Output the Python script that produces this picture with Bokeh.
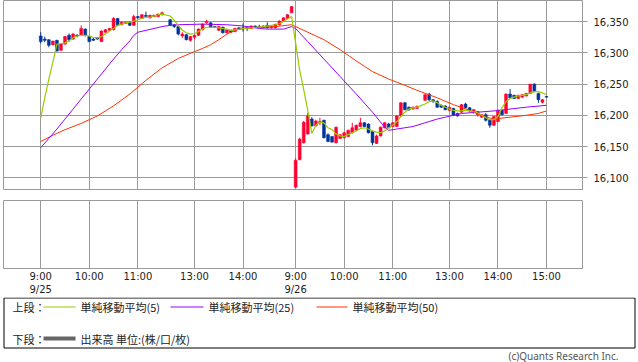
from bokeh.plotting import figure
from bokeh.layouts import column
from bokeh.models import Range1d, FixedTicker, NumeralTickFormatter
from bokeh.core.properties import value
from bokeh.embed import file_html
from bokeh.resources import INLINE

# ---------------- data ----------------
# x slots of 5-minute bars (one empty slot for each lunch break)
am1 = list(range(0, 31))
pm1 = list(range(32, 63))
am2 = list(range(63, 94))
pm2 = list(range(95, 126))
slots = am1 + pm1 + am2 + pm2

opens = [16327, 16322, 16321, 16313, 16320, 16304, 16314, 16328, 16322, 16328,
         16328, 16338, 16326, 16322, 16324, 16318, 16333, 16336, 16337, 16355,
         16345, 16347, 16349, 16344, 16358, 16355, 16360, 16356, 16358, 16358, 16361,
         16353, 16345, 16342, 16327, 16329, 16320, 16325, 16328, 16337, 16348,
         16348, 16342, 16336, 16341, 16332, 16336, 16334, 16340, 16340, 16341,
         16339, 16343, 16342, 16340, 16344, 16340, 16340, 16345, 16351, 16355, 16364,
         16085, 16129, 16156, 16170, 16194, 16183, 16188, 16192, 16169, 16166,
         16156, 16163, 16164, 16166, 16172, 16176, 16182, 16188, 16186, 16174,
         16155, 16167, 16180, 16186, 16182, 16182, 16199, 16220, 16213, 16210, 16211,
         16224, 16234, 16225, 16222, 16216, 16215, 16208, 16211, 16203, 16205,
         16218, 16212, 16204, 16201, 16197, 16201, 16193, 16184, 16190, 16208,
         16203, 16234, 16232, 16227, 16229, 16231, 16235, 16250, 16235, 16221, 16230]
highs = [16333, 16326, 16322, 16319, 16321, 16315, 16327, 16331, 16332, 16330,
         16344, 16339, 16327, 16324, 16325, 16336, 16338, 16340, 16357, 16356,
         16350, 16350, 16350, 16361, 16359, 16362, 16366, 16361, 16361, 16363, 16366,
         16354, 16346, 16343, 16333, 16330, 16327, 16329, 16339, 16347, 16353,
         16349, 16343, 16343, 16342, 16337, 16337, 16340, 16341, 16347, 16342,
         16344, 16344, 16345, 16344, 16349, 16343, 16346, 16352, 16357, 16362, 16375,
         16131, 16164, 16191, 16204, 16197, 16193, 16196, 16193, 16171, 16166,
         16182, 16170, 16173, 16177, 16188, 16185, 16196, 16189, 16187, 16175,
         16169, 16182, 16189, 16188, 16189, 16200, 16221, 16221, 16214, 16214, 16216,
         16234, 16236, 16226, 16224, 16217, 16216, 16214, 16212, 16204, 16218,
         16220, 16213, 16210, 16207, 16202, 16204, 16194, 16199, 16209, 16209,
         16235, 16242, 16233, 16233, 16234, 16236, 16250, 16251, 16236, 16226, 16231]
lows = [16315, 16317, 16309, 16312, 16302, 16303, 16313, 16318, 16321, 16325,
        16327, 16326, 16317, 16319, 16321, 16317, 16332, 16335, 16336, 16343,
        16344, 16346, 16343, 16343, 16355, 16354, 16357, 16355, 16357, 16357, 16360,
        16343, 16340, 16328, 16324, 16320, 16318, 16322, 16327, 16336, 16347,
        16340, 16340, 16335, 16331, 16331, 16332, 16333, 16337, 16334, 16335,
        16338, 16340, 16340, 16339, 16339, 16339, 16339, 16344, 16350, 16354, 16364,
        16084, 16128, 16155, 16169, 16182, 16182, 16184, 16163, 16157, 16157,
        16155, 16162, 16163, 16165, 16171, 16175, 16181, 16181, 16171, 16152,
        16154, 16166, 16179, 16179, 16181, 16181, 16198, 16208, 16207, 16209, 16210,
        16223, 16223, 16220, 16212, 16212, 16208, 16207, 16199, 16198, 16204,
        16211, 16206, 16203, 16198, 16196, 16190, 16180, 16183, 16189, 16200,
        16202, 16227, 16226, 16226, 16228, 16230, 16234, 16237, 16220, 16219, 16229]
closes = [16318, 16320, 16312, 16319, 16303, 16314, 16326, 16321, 16330, 16327,
          16339, 16328, 16318, 16320, 16322, 16335, 16337, 16339, 16355, 16344,
          16349, 16349, 16344, 16358, 16356, 16361, 16358, 16360, 16360, 16362, 16364,
          16344, 16342, 16330, 16330, 16321, 16326, 16328, 16338, 16346, 16350,
          16341, 16341, 16342, 16332, 16337, 16333, 16339, 16338, 16338, 16340,
          16343, 16341, 16341, 16343, 16340, 16342, 16346, 16351, 16356, 16361, 16374,
          16128, 16162, 16189, 16199, 16183, 16191, 16190, 16164, 16158, 16157,
          16181, 16169, 16172, 16176, 16180, 16184, 16188, 16182, 16172, 16156,
          16167, 16181, 16188, 16180, 16188, 16199, 16220, 16209, 16209, 16213, 16214,
          16233, 16225, 16222, 16213, 16213, 16209, 16213, 16200, 16199, 16217,
          16212, 16207, 16209, 16206, 16201, 16192, 16184, 16198, 16208, 16201,
          16234, 16228, 16227, 16232, 16233, 16235, 16250, 16238, 16225, 16225, 16229]

# moving averages (slot, value)
ma5_x = [0, 1, 2, 3, 4, 5, 6, 7, 8, 9, 10, 11, 12, 13, 14, 15, 16, 17, 18, 19, 20,
         21, 22, 23, 24, 25, 26, 27, 28, 29, 30, 32, 33, 34, 35, 36, 37, 38, 39, 40,
         41, 42, 43, 44, 45, 46, 47, 48, 50, 52, 53, 55, 57, 58, 59, 60, 61, 62,
         63, 64, 65, 66, 67, 68, 69, 70, 71, 72, 73, 74, 75, 76, 77, 78, 79, 80,
         81, 82, 83, 84, 85, 86, 87, 88, 89, 90, 91, 92, 93, 95, 96, 97, 98, 99,
         100, 101, 102, 103, 104, 105, 106, 107, 108, 109, 110, 111, 112, 113, 114,
         115, 116, 117, 118, 119, 120, 121, 122, 123, 124, 125]
ma5 = [16196, 16228, 16258, 16285, 16314, 16315, 16316, 16319, 16324, 16327, 16328,
       16328, 16327, 16325, 16324, 16326, 16330, 16335, 16339, 16344, 16346,
       16348, 16349, 16351, 16353, 16355, 16357, 16357, 16359, 16361, 16362,
       16359, 16352, 16344, 16336, 16332, 16330, 16331, 16334, 16338,
       16341, 16341, 16341, 16340, 16339, 16338, 16336, 16337, 16339, 16340,
       16341, 16342, 16344, 16345, 16347, 16350, 16354, 16358,
       16316, 16272, 16241, 16208, 16171, 16184, 16189, 16188, 16180, 16177,
       16170, 16167, 16166, 16169, 16172, 16175, 16179, 16180, 16178, 16175,
       16173, 16172, 16175, 16180, 16184, 16190, 16198, 16205, 16210, 16212,
       16213, 16218, 16222, 16223, 16220, 16216, 16213, 16210, 16208, 16207,
       16207, 16208, 16207, 16206, 16204, 16200, 16196, 16193, 16193, 16198,
       16212, 16222, 16227, 16229, 16231, 16232, 16233, 16236, 16238, 16238,
       16236, 16233]
ma25_x = [0, 2, 4, 6, 8, 10, 12, 14, 16, 18, 20, 22, 23, 24, 26, 28, 30, 32, 34,
          40, 46, 50, 54, 56, 60, 62, 63, 64, 66, 70, 74, 78, 82, 85, 86, 88, 90,
          92, 95, 96, 98, 100, 102, 104, 108, 112, 116, 120, 125]
ma25 = [16148, 16163, 16178, 16194, 16210, 16226, 16242, 16258, 16274, 16290,
        16305, 16319, 16328, 16333, 16336, 16339, 16342, 16344, 16345, 16346,
        16345, 16343, 16339, 16338, 16338, 16342, 16339, 16332, 16318, 16290,
        16262, 16234, 16205, 16181, 16176, 16178, 16180, 16182, 16188, 16190,
        16194, 16197, 16200, 16203, 16205, 16207, 16210, 16213, 16216]
ma50_x = [0, 3, 6, 10, 14, 18, 22, 26, 30, 34, 38, 40, 42, 44, 46, 48, 50, 54,
          58, 62, 63, 66, 70, 74, 78, 82, 86, 90, 93, 98, 102, 106, 109, 112,
          116, 120, 123, 125]
ma50 = [16158, 16168, 16177, 16187, 16199, 16215, 16234, 16256, 16276, 16291,
        16302, 16307, 16313, 16321, 16330, 16336, 16339, 16341, 16342, 16345,
        16342, 16333, 16321, 16305, 16287, 16270, 16258, 16248, 16240, 16228,
        16217, 16208, 16199, 16194, 16197, 16200, 16203, 16207]

tick_pos = [0, 12, 24, 38, 50, 63, 75, 87, 101, 113, 125]
tick_labels = ["9:00\n9/25", "10:00", "11:00", "13:00", "14:00", "9:00\n9/26",
               "10:00", "11:00", "13:00", "14:00", "15:00"]
price_ticks = [16100, 16150, 16200, 16250, 16300, 16350]

legend_top = ["単純移動平均(5)", "単純移動平均(25)", "単純移動平均(50)"]
legend_colors = ["#99cc00", "#9900ff", "#ff3300"]
legend_bottom = "出来高 単位:(株/口/枚)"

# ---------------- styling ----------------
GRID = "#9a9a9a"
UP, DOWN = "#ff0033", "#003399"
FONT = "DejaVu Sans"
JFONT = "Noto Sans CJK JP"
W = 638
XR = Range1d(-9.2, 133.9)

# ---------------- upper panel ----------------
p1 = figure(width=W, height=190, x_range=XR,
            y_range=Range1d(16079.6, 16383.8), output_backend="svg",
            toolbar_location=None, y_axis_location="right", x_axis_location=None,
            min_border_left=3, min_border_top=0, min_border_bottom=0, min_border_right=56)
p1.outline_line_color = GRID
p1.background_fill_color = "white"
p1.xgrid.ticker = FixedTicker(ticks=tick_pos)
p1.xgrid.grid_line_color = GRID
p1.ygrid.grid_line_color = GRID
p1.yaxis.ticker = FixedTicker(ticks=price_ticks)
p1.yaxis.formatter = NumeralTickFormatter(format="0,0")
p1.yaxis.major_tick_in = 0
p1.yaxis.major_tick_out = 5
p1.yaxis.minor_tick_line_color = None
p1.yaxis.axis_line_color = GRID
p1.yaxis.major_tick_line_color = GRID
p1.yaxis.major_label_standoff = 6
p1.yaxis.major_label_text_font = FONT
p1.yaxis.major_label_text_font_size = "10px"
p1.yaxis.major_label_text_color = "#222222"

colors = [UP if c >= o else DOWN for o, c in zip(opens, closes)]
p1.segment(x0=slots, y0=lows, x1=slots, y1=highs, line_color=colors, line_width=1)
p1.vbar(x=slots, width=0.72,
        top=[max(o, c) for o, c in zip(opens, closes)],
        bottom=[min(o, c) for o, c in zip(opens, closes)],
        fill_color=colors, line_color=colors, line_width=0.5)
p1.line(ma50_x, ma50, line_color=legend_colors[2], line_width=1)
p1.line(ma25_x, ma25, line_color=legend_colors[1], line_width=1)
p1.line(ma5_x, ma5, line_color=legend_colors[0], line_width=1.2)

# ---------------- lower panel (volume) ----------------
p2 = figure(width=W, height=107, x_range=XR, y_range=Range1d(0, 1),
            output_backend="svg", toolbar_location=None, y_axis_location=None,
            min_border_left=3, min_border_top=10, min_border_bottom=0, min_border_right=56)
p2.outline_line_color = GRID
p2.ygrid.visible = False
p2.xgrid.ticker = FixedTicker(ticks=tick_pos)
p2.xgrid.grid_line_color = GRID
p2.xaxis.ticker = FixedTicker(ticks=tick_pos)
p2.xaxis.major_label_overrides = dict(zip(tick_pos, tick_labels))
p2.xaxis.major_tick_in = 0
p2.xaxis.major_tick_out = 0
p2.xaxis.minor_tick_line_color = None
p2.xaxis.axis_line_color = GRID
p2.xaxis.major_label_standoff = 2
p2.xaxis.major_label_text_font = FONT
p2.xaxis.major_label_text_font_size = "10px"
p2.xaxis.major_label_text_color = "#222222"

# ---------------- legend box (separate root, not frame-aligned) ----------------
H3 = 65
p3 = figure(width=W, height=H3, x_range=Range1d(0, W), y_range=Range1d(H3, 0),
            output_backend="svg", toolbar_location=None,
            x_axis_location=None, y_axis_location=None,
            min_border_left=0, min_border_top=0, min_border_bottom=0, min_border_right=0)
p3.outline_line_color = None
p3.grid.visible = False
p3.quad(left=[3.5], right=[634.5], top=[0.5], bottom=[50.5],
        fill_color=None, line_color="black", line_width=1)
row1, row2 = 9.5, 41
p3.segment(x0=[43, 170, 316], y0=[row1] * 3, x1=[75, 203, 347], y1=[row1] * 3,
           line_color=legend_colors, line_width=1.2)
p3.segment(x0=[43], y0=[row2], x1=[75], y1=[row2], line_color="#666666", line_width=4)
p3.text(x=[12, 80, 208, 352, 12, 80], y=[row1, row1, row1, row1, row2, row2],
        text=["上段："] + legend_top + ["下段：", legend_bottom],
        text_font=value(JFONT), text_font_size=value("11px"),
        text_baseline="middle", text_align="left", text_color="#222222")
p3.text(x=[618], y=[58.5], text=["(c)Quants Research Inc."],
        text_font=value("Noto Sans"), text_font_size=value("10px"),
        text_baseline="middle", text_align="right", text_color="#555555")

open("out.html", "w").write(file_html([column(p1, p2, spacing=0), p3], INLINE))
